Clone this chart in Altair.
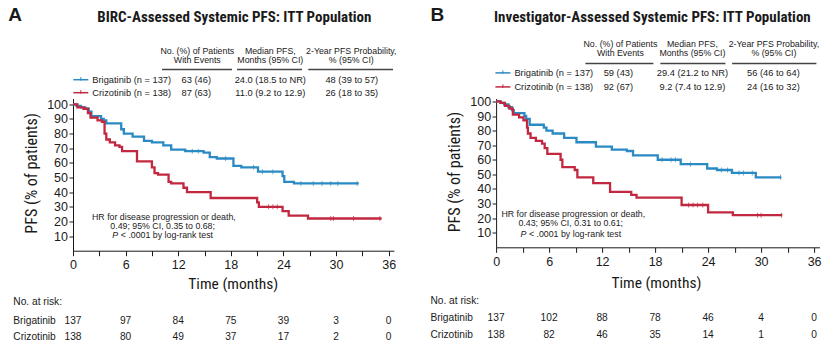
import altair as alt
import pandas as pd

BLUE = "#2a8ac4"
RED = "#c1283f"
INK = "#1a1a1a"
NARROW = "Liberation Sans Narrow, Arial Narrow, Roboto Condensed, DejaVu Sans Condensed, Liberation Sans, sans-serif"
SANS = "Liberation Sans, Arial, Helvetica, sans-serif"

# ---------------- data ----------------
arm_labels = ["Brigatinib (n = 137)", "Crizotinib (n = 138)"]
risk_arms = ["Brigatinib", "Crizotinib"]
risk_months = [0, 6, 12, 18, 24, 30, 36]

# Panel A : BIRC-assessed
a_brig_t = [0, 0.4, 0.9, 1.4, 1.8, 2.1, 3.2, 3.5, 3.8, 5.5, 5.8, 6.8, 8.1, 9.0, 10.3, 11.2, 12.8, 14.9, 15.6, 16.4, 18.3, 19.2, 21.1, 23.9, 24.1, 25.2, 32.6]
a_brig_s = [100, 99, 98, 97, 95, 92, 90, 89, 87, 83, 80, 78, 75, 74, 72, 69, 68, 67, 64, 63, 58, 57, 54, 51, 47, 46, 46]
a_criz_t = [0, 0.5, 1.2, 1.7, 2.0, 2.8, 3.3, 3.6, 3.8, 4.2, 4.8, 5.3, 5.6, 7.3, 9.0, 9.3, 9.7, 10.9, 11.2, 12.6, 13.0, 15.7, 21.0, 21.2, 23.9, 24.6, 26.8, 35.2]
a_criz_s = [100, 98, 97, 94, 91, 89, 88, 80, 76, 74, 72, 71, 68, 61, 57, 53, 52, 47, 46, 43, 40, 36, 33, 30, 27, 24, 22, 22]
a_brig_cens_t = [13.6, 14.3, 17.4, 20.6, 21.6, 22.8, 26.0, 27.4, 28.4, 29.4, 30.2, 32.4]
a_brig_cens_s = [68, 68, 63, 57, 54, 54, 46, 46, 46, 46, 46, 46]
a_criz_cens_t = [22.3, 22.8, 23.3, 29.4, 29.7, 32.0, 35.0]
a_criz_cens_s = [30, 30, 30, 22, 22, 22, 22]
a_events = ["63 (46)", "87 (63)"]
a_median = ["24.0 (18.5 to NR)", "11.0 (9.2 to 12.9)"]
a_2yr = ["48 (39 to 57)", "26 (18 to 35)"]
a_risk_brig = [137, 97, 84, 75, 39, 3, 0]
a_risk_criz = [138, 80, 49, 37, 17, 2, 0]
a_hr = ["HR for disease progression or death,", "0.49; 95%  CI, 0.35 to 0.68;", "< .0001 by log-rank test"]

# Panel B : investigator-assessed
b_brig_t = [0, 0.5, 0.9, 1.4, 1.8, 2.0, 3.2, 3.4, 3.8, 5.4, 5.7, 6.4, 7.7, 9.1, 11.3, 13.1, 14.8, 15.5, 18.3, 20.9, 23.9, 25.0, 26.7, 29.4, 32.3]
b_brig_s = [100, 99, 98, 96, 94, 92, 90, 88, 84, 82, 80, 78, 75, 72, 69, 67, 66, 63, 60, 57, 54, 53, 51, 48, 48]
b_criz_t = [0, 0.5, 1.0, 1.5, 1.9, 2.6, 3.1, 3.5, 3.6, 3.9, 4.5, 5.2, 5.5, 5.8, 7.3, 7.5, 8.9, 9.2, 11.0, 12.9, 15.3, 15.9, 21.0, 24.0, 26.8, 32.4]
b_criz_s = [100, 99, 97, 95, 91, 89, 87, 82, 78, 75, 73, 71, 68, 64, 60, 55, 53, 48, 44, 38, 36, 34, 29, 24, 22, 22]
b_brig_cens_t = [18.8, 19.8, 20.3, 22.0, 25.5, 26.2, 27.5, 28.0, 29.0, 32.2]
b_brig_cens_s = [60, 60, 60, 57, 53, 53, 51, 51, 51, 48]
b_criz_cens_t = [21.8, 22.3, 22.8, 23.4, 29.6, 30.0, 32.3]
b_criz_cens_s = [29, 29, 29, 29, 22, 22, 22]
b_events = ["59 (43)", "92 (67)"]
b_median = ["29.4 (21.2 to NR)", "9.2 (7.4 to 12.9)"]
b_2yr = ["56 (46 to 64)", "24 (16 to 32)"]
b_risk_brig = [137, 102, 88, 78, 46, 4, 0]
b_risk_criz = [138, 82, 46, 35, 14, 1, 0]
b_hr = ["HR for disease progression or death,", "0.43; 95%  CI, 0.31 to 0.61;", "< .0001 by log-rank test"]

header1 = ["No. (%) of Patients", "Median PFS,", "2-Year PFS Probability,"]
header2 = ["With Events", "Months (95% CI)", "% (95% CI)"]

ONE = pd.DataFrame({"k": [0]})

HEAD = 8.8    # table header size
TAB = 9.3     # table row size
RISK = 10.2   # risk table size


def build_panel(L):
    ox, oy = L["ox"], L["oy"]
    xs = alt.Scale(domain=[0, 36.6], nice=False, zero=False)
    ys = alt.Scale(domain=[0, L["ytop"]], nice=False, zero=False)
    xaxis = alt.Axis(values=list(range(0, 37, 3)),
                     labelExpr="datum.value % 6 == 0 ? datum.label : ''",
                     title=None, grid=False, tickSize=5, tickColor=INK, domainColor=INK,
                     labelFontSize=12.5, labelColor=INK, labelFont=SANS, labelPadding=3,
                     labelFlush=False, labelOverlap=False)
    yaxis = alt.Axis(values=list(range(10, 101, 10)), title=None, grid=False, tickSize=4,
                     tickColor=INK, domainColor=INK, labelFontSize=12.5, labelColor=INK,
                     labelFont=SANS, labelPadding=1.5, labelFlush=False, labelOverlap=False)
    X = alt.X("t:Q", scale=xs, axis=xaxis)
    Y = alt.Y("s:Q", scale=ys, axis=yaxis)

    layers = []
    for (t, s, ct, cs, col) in L["curves"]:
        layers.append(alt.Chart(pd.DataFrame({"t": t, "s": s}))
                      .mark_line(interpolate="step-after", color=col, strokeWidth=2.3)
                      .encode(x=X, y=Y))
        layers.append(alt.Chart(pd.DataFrame({"t": ct, "s": cs}))
                      .mark_tick(orient="vertical", color=col, size=5, thickness=1)
                      .encode(x=X, y=Y))

    def T(s, x, y, size=TAB, align="left", weight="normal", font=SANS, angle=0, style="normal"):
        mk = dict(align=align, baseline="middle", fontSize=size, fontWeight=weight,
                  font=font, color=INK, fontStyle=style)
        if angle:
            mk["angle"] = angle
        layers.append(alt.Chart(ONE).mark_text(**mk).encode(
            x=alt.value(x - ox), y=alt.value(y - oy), text=alt.value(s)))

    def R(x1, x2, y, col=INK, w=1.5):
        layers.append(alt.Chart(ONE).mark_rule(color=col, strokeWidth=w).encode(
            x=alt.value(x1 - ox), x2=alt.value(x2 - ox), y=alt.value(y - oy)))

    def V(x, y1, y2, col, w=1):
        layers.append(alt.Chart(ONE).mark_rule(color=col, strokeWidth=w).encode(
            x=alt.value(x - ox), y=alt.value(y1 - oy), y2=alt.value(y2 - oy)))

    # panel letter and title
    T(L["letter"], L["letter_x"], 15, size=19, weight="bold")
    T(L["title"], L["title_x"], 17, size=15, weight="bold", align="center", font=NARROW)
    # table header
    for i in range(3):
        T(header1[i], L["col_x"][i], L["hy"][0], size=HEAD, align="center")
        T(header2[i], L["col_x"][i], L["hy"][1], size=HEAD, align="center")
        R(L["ul"][i][0], L["ul"][i][1], L["ul_y"], col="#444", w=1.5)
    # table rows
    for r, col in enumerate([BLUE, RED]):
        yy = L["row_y"][r]
        R(L["leg_x"][0], L["leg_x"][1], yy, col=col, w=1.5)
        V((L["leg_x"][0] + L["leg_x"][1]) / 2, yy - 2.5, yy + 1, col)
        T(arm_labels[r], L["leg_x"][1] + 4, yy)
        T(L["events"][r], L["val_x"][0], yy, align="center")
        T(L["median"][r], L["val_x"][1], yy, align="center")
        T(L["two"][r], L["val_x"][2], yy, align="center")
    # HR annotation
    hx1, hx2 = L["hr_x"]
    T(L["hr"][0], hx1, L["hr_y"][0], size=8.8)
    T(L["hr"][1], hx2, L["hr_y"][1], size=8.8)
    T("P", hx2 + 2, L["hr_y"][2], size=8.8, style="italic")
    T(L["hr"][2], hx2 + 10.5, L["hr_y"][2], size=8.8)
    # axis titles
    T("PFS (% of patients)", L["ytitle"][0], L["ytitle"][1], size=16, align="center", font=NARROW, angle=270)
    T("Time (months)", L["xtitle"][0], L["xtitle"][1], size=15.5, align="center", font=NARROW)
    # risk table
    T("No. at risk:", L["risk_x"], L["risk_y"][0], size=RISK)
    for r in range(2):
        T(risk_arms[r], L["risk_x"], L["risk_y"][r + 1], size=RISK)
        layers.append(alt.Chart(pd.DataFrame({"t": risk_months, "n": L["risk"][r]}))
                      .mark_text(align="center", baseline="middle", fontSize=RISK, font=SANS, color=INK)
                      .encode(x=X, y=alt.value(L["risk_y"][r + 1] - oy), text="n:Q"))

    return alt.layer(*layers).properties(width=L["w"], height=L["h"])


OY = 98.1
panel_a = dict(
    ox=72.7, oy=OY, w=320.9, h=152.2, ytop=104,
    curves=[(a_brig_t, a_brig_s, a_brig_cens_t, a_brig_cens_s, BLUE),
            (a_criz_t, a_criz_s, a_criz_cens_t, a_criz_cens_s, RED)],
    letter="A", letter_x=8, title="BIRC-Assessed Systemic PFS: ITT Population", title_x=234,
    col_x=[197, 270, 351], hy=[51, 60], ul=[(161.7, 231.7), (236.7, 301.7), (308, 392.7)], ul_y=69,
    row_y=[79.3, 92.3], leg_x=(73, 88), val_x=[196, 270, 351.5],
    events=a_events, median=a_median, two=a_2yr,
    hr=a_hr, hr_x=(91.7, 110), hr_y=[216.7, 225.7, 235],
    ytitle=(32, 173), xtitle=(233, 284),
    risk_x=13, risk_y=[302, 321, 337], risk=[a_risk_brig, a_risk_criz],
)
panel_b = dict(
    ox=495.7, oy=OY, w=323.3, h=148.8, ytop=102,
    curves=[(b_brig_t, b_brig_s, b_brig_cens_t, b_brig_cens_s, BLUE),
            (b_criz_t, b_criz_s, b_criz_cens_t, b_criz_cens_s, RED)],
    letter="B", letter_x=430, title="Investigator-Assessed Systemic PFS: ITT Population", title_x=652,
    col_x=[620, 692, 773.5], hy=[44, 53], ul=[(585, 653), (660, 725), (731.7, 816)], ul_y=63,
    row_y=[72.5, 86.5], leg_x=(495, 510), val_x=[618, 692, 773],
    events=b_events, median=b_median, two=b_2yr,
    hr=b_hr, hr_x=(501, 518), hr_y=[213.3, 222.3, 233.3],
    ytitle=(454.7, 171.7), xtitle=(656, 282.7),
    risk_x=430, risk_y=[301, 318, 335], risk=[b_risk_brig, b_risk_criz],
)

pa = build_panel(panel_a)
pb = build_panel(panel_b)

chart = (alt.hconcat(pa, pb, spacing=495.7 - 72.7 - 320.9, bounds="flush")
         .properties(padding={"left": 8, "top": 5.5, "right": 0, "bottom": 0}, background="white")
         .configure_view(stroke=None))

chart.save("out.html", embed_options={"renderer": "svg", "actions": False})
